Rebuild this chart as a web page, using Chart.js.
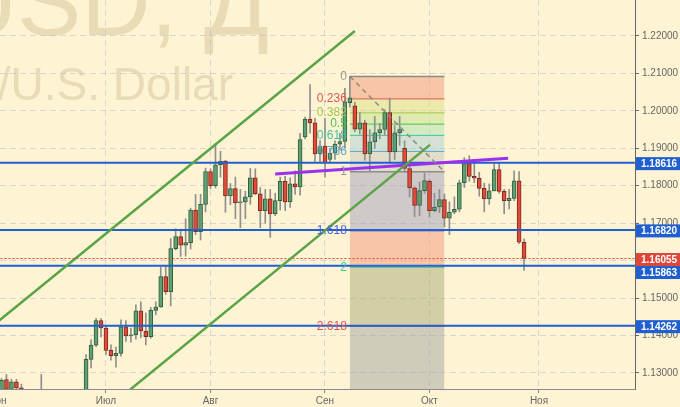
<!DOCTYPE html>
<html>
<head>
<meta charset="utf-8">
<script src="https://cdn.jsdelivr.net/npm/chart.js@4.4.0/dist/chart.umd.min.js"></script>
<style>
  html, body { margin: 0; padding: 0; background: #fef3d2; }
  canvas { display: block; }
</style>
</head>
<body>
<canvas id="chart" width="680" height="407"></canvas>
<script>
// EUR/USD daily, one entry per trading day from 1 Jun (index 0) to 27 Oct (index 106)
var openP = [
  1.1245, 1.1216, 1.1282, 1.1256, 1.1276, 1.1260, 1.1212, 1.1196, 1.1213, 1.1214,
  1.1215, 1.1150, 1.1198, 1.1150, 1.1133, 1.1164, 1.1151, 1.1196, 1.1182, 1.1336,
  1.1374, 1.1440, 1.1420, 1.1360, 1.1346, 1.1352, 1.1423, 1.1399, 1.1402, 1.1466,
  1.1412, 1.1397, 1.1467, 1.1476, 1.1557, 1.1517, 1.1632, 1.1664, 1.1641, 1.1648,
  1.1735, 1.1677, 1.1750, 1.1838, 1.1800, 1.1856, 1.1866, 1.1773, 1.1792, 1.1754,
  1.1757, 1.1770, 1.1821, 1.1778, 1.1733, 1.1765, 1.1725, 1.1760, 1.1812, 1.1757,
  1.1805, 1.1797, 1.1930, 1.1978, 1.1968, 1.1885, 1.1906, 1.1870, 1.1887, 1.1911,
  1.1918, 1.2022, 1.2013, 1.1951, 1.1968, 1.1885, 1.1917, 1.1941, 1.1950, 1.1995,
  1.1890, 1.1941, 1.1900, 1.1846, 1.1794, 1.1747, 1.1787, 1.1812, 1.1733, 1.1743,
  1.1763, 1.1713, 1.1729, 1.1737, 1.1808, 1.1859, 1.1825, 1.1820, 1.1793, 1.1765,
  1.1786, 1.1843, 1.1785, 1.1760, 1.1766, 1.1813, 1.1649
];
var highP = [
  1.1259, 1.1285, 1.1296, 1.1283, 1.1283, 1.1270, 1.1223, 1.1230, 1.1230, 1.1296,
  1.1220, 1.1213, 1.1211, 1.1160, 1.1172, 1.1190, 1.1213, 1.1207, 1.1349, 1.1389,
  1.1446, 1.1445, 1.1426, 1.1375, 1.1369, 1.1442, 1.1440, 1.1420, 1.1482, 1.1490,
  1.1460, 1.1475, 1.1490, 1.1583, 1.1585, 1.1659, 1.1685, 1.1684, 1.1712, 1.1740,
  1.1777, 1.1777, 1.1847, 1.1845, 1.1910, 1.1892, 1.1868, 1.1806, 1.1823, 1.1790,
  1.1785, 1.1846, 1.1845, 1.1795, 1.1790, 1.1790, 1.1780, 1.1823, 1.1825, 1.1821,
  1.1840, 1.1940, 1.1983, 1.2070, 1.1980, 1.1921, 1.1980, 1.1900, 1.1920, 1.1940,
  1.2060, 1.2092, 1.2023, 1.1995, 1.1975, 1.1950, 1.1985, 1.1966, 1.2003, 1.2034,
  1.1960, 1.1985, 1.1920, 1.1858, 1.1796, 1.1810, 1.1834, 1.1816, 1.1780, 1.1790,
  1.1778, 1.1757, 1.1770, 1.1815, 1.1875, 1.1880, 1.1860, 1.1836, 1.1807, 1.1805,
  1.1860, 1.1860, 1.1790, 1.1790, 1.1840, 1.1838, 1.1658
];
var lowP = [
  1.1207, 1.1206, 1.1251, 1.1234, 1.1224, 1.1210, 1.1168, 1.1185, 1.1190, 1.1189,
  1.1132, 1.1141, 1.1148, 1.1119, 1.1118, 1.1144, 1.1146, 1.1175, 1.1172, 1.1313,
  1.1370, 1.1396, 1.1349, 1.1334, 1.1315, 1.1345, 1.1384, 1.1382, 1.1390, 1.1394,
  1.1375, 1.1393, 1.1455, 1.1475, 1.1510, 1.1479, 1.1628, 1.1611, 1.1612, 1.1631,
  1.1669, 1.1655, 1.1730, 1.1792, 1.1794, 1.1823, 1.1729, 1.1749, 1.1712, 1.1688,
  1.1712, 1.1750, 1.1776, 1.1688, 1.1700, 1.1662, 1.1720, 1.1735, 1.1733, 1.1742,
  1.1777, 1.1775, 1.1925, 1.1940, 1.1865, 1.1864, 1.1823, 1.1860, 1.1870, 1.1895,
  1.1900, 1.2010, 1.1944, 1.1938, 1.1868, 1.1838, 1.1900, 1.1925, 1.1936, 1.1861,
  1.1870, 1.1908, 1.1836, 1.1770, 1.1717, 1.1720, 1.1780, 1.1716, 1.1730, 1.1728,
  1.1690, 1.1669, 1.1725, 1.1730, 1.1795, 1.1812, 1.1808, 1.1772, 1.1730, 1.1750,
  1.1786, 1.1780, 1.1725, 1.1738, 1.1760, 1.1645, 1.1574
];
var closeP = [
  1.1216, 1.1280, 1.1256, 1.1276, 1.1260, 1.1212, 1.1196, 1.1213, 1.1214, 1.1215,
  1.1150, 1.1198, 1.1150, 1.1133, 1.1164, 1.1151, 1.1196, 1.1182, 1.1336, 1.1374,
  1.1440, 1.1420, 1.1360, 1.1346, 1.1352, 1.1423, 1.1399, 1.1402, 1.1466, 1.1412,
  1.1397, 1.1467, 1.1476, 1.1557, 1.1517, 1.1632, 1.1664, 1.1641, 1.1648, 1.1735,
  1.1677, 1.1750, 1.1838, 1.1800, 1.1856, 1.1866, 1.1773, 1.1792, 1.1754, 1.1757,
  1.1770, 1.1821, 1.1778, 1.1733, 1.1765, 1.1725, 1.1760, 1.1812, 1.1757, 1.1805,
  1.1797, 1.1923, 1.1978, 1.1968, 1.1885, 1.1906, 1.1861, 1.1887, 1.1911, 1.1918,
  1.2024, 1.2035, 1.1951, 1.1968, 1.1885, 1.1917, 1.1941, 1.1950, 1.1995, 1.1890,
  1.1941, 1.1950, 1.1846, 1.1794, 1.1747, 1.1787, 1.1814, 1.1733, 1.1743, 1.1763,
  1.1713, 1.1729, 1.1737, 1.1808, 1.1859, 1.1825, 1.1820, 1.1793, 1.1765, 1.1786,
  1.1843, 1.1785, 1.1760, 1.1766, 1.1813, 1.1649, 1.16055
];

// first trading day of each month and its label
var monthDays = [0, 22, 43, 66, 87, 109];
var monthNames = ['Июн', 'Июл', 'Авг', 'Сен', 'Окт', 'Ноя'];

// horizontal levels and the last price
var levelPrices = [1.18616, 1.16820, 1.15863, 1.14262];
var lastPrice = 1.16055;

// fibonacci extension, from the 8 Sep high to the 31 Aug low
var fibFrom = 71, fibTo = 90;
var fibHigh = 1.2092, fibLow = 1.1837;
var fibRatios = [0, 0.236, 0.382, 0.5, 0.618, 0.786, 1, 1.618, 2, 2.618, 3.618];
var fibNames = ['0', '0.236', '0.382', '0.5', '0.618', '0.786', '1', '1.618', '2', '2.618', '3.618'];

// drawn lines: [day index, price] end points
var channelUpper = [[0, 1.1434], [72, 1.2213]];
var channelLower = [[20, 1.1181], [87.1, 1.1909]];
var purpleTrend = [[56, 1.1831], [102.8, 1.1873]];

var fibLineColors = ['#8c8c8c', '#e05a4e', '#a6c84a', '#4cc24c', '#3fc3a4', '#5aa8d0',
  '#8c8c8c', '#4a60dc', '#3ec890', '#e2505c', '#a050c0'];
var fibZoneColors = ['rgba(0,0,0,0)', 'rgba(242,160,130,0.55)', 'rgba(215,225,130,0.5)',
  'rgba(190,225,140,0.5)', 'rgba(170,225,175,0.5)', 'rgba(170,210,215,0.5)',
  'rgba(195,200,190,0.5)', 'rgba(160,160,190,0.5)', 'rgba(242,160,130,0.55)',
  'rgba(165,170,120,0.5)', 'rgba(160,165,165,0.5)'];

function fibPrice(r) {
  return fibHigh - r * (fibHigh - fibLow);
}

function segment(points, color, width, dash) {
  return {
    type: 'line',
    data: points.map(function (p) { return {x: p[0], y: p[1]}; }),
    borderColor: color,
    borderWidth: width,
    borderDash: dash || [],
    pointRadius: 0,
    fill: false,
    order: 1
  };
}

var datasets = [];

// fib levels, every level filled up to the one before it
fibRatios.forEach(function (r, k) {
  var p = fibPrice(r);
  datasets.push({
    type: 'line',
    data: [{x: fibFrom, y: p}, {x: fibTo, y: p}],
    borderColor: fibLineColors[k],
    borderWidth: (k === 0 || k === 6) ? 1.5 : 1,
    pointRadius: 0,
    fill: k === 0 ? false : '-1',
    backgroundColor: fibZoneColors[k],
    order: 10
  });
});

// candles: wicks and bodies as floating bars
var wickData = [], bodyData = [], bodyFill = [], bodyEdge = [];
for (var i = 0; i < closeP.length; i++) {
  wickData.push({x: i, y: [lowP[i], highP[i]]});
  bodyData.push({x: i, y: [openP[i], closeP[i]]});
  var up = closeP[i] >= openP[i];
  bodyFill.push(up ? '#5f9f73' : '#df4a3a');
  bodyEdge.push(up ? '#2f5f3e' : '#7d2a1e');
}
datasets.push({
  type: 'bar', data: wickData, backgroundColor: '#8f8f8f',
  barThickness: 1, grouped: false, order: 5
});
datasets.push({
  type: 'bar', data: bodyData, backgroundColor: bodyFill, borderColor: bodyEdge,
  borderWidth: 1, borderSkipped: false, barThickness: 4, grouped: false, order: 4
});

// fib diagonal, channel, trend line, horizontal levels
datasets.push(segment([[fibFrom, fibHigh], [fibTo, fibLow]], '#8a8a8a', 1.5, [5, 4]));
datasets.push(segment(channelUpper, '#5aa347', 2.5));
datasets.push(segment(channelLower, '#5aa347', 2.5));
datasets.push(segment(purpleTrend, '#9b30ee', 3));
levelPrices.forEach(function (p) {
  datasets.push(segment([[0, p], [130, p]], '#1f5fd2', 2));
});
datasets.push(segment([[0, lastPrice], [130, lastPrice]], '#e0453a', 1, [2, 2]));

var paper = {
  id: 'paper',
  beforeDraw: function (chart) {
    var ctx = chart.ctx;
    ctx.save();
    ctx.fillStyle = '#fef3d2';
    ctx.fillRect(0, 0, chart.width, chart.height);
    ctx.fillStyle = '#e8dbb6';
    ctx.textAlign = 'right';
    ctx.textBaseline = 'alphabetic';
    ctx.font = '96px "Liberation Sans"';
    ctx.fillText('EUR/USD, Д', 269, 35);
    ctx.font = '46px "Liberation Sans"';
    ctx.fillText('Euro/U.S. Dollar', 233, 100);
    ctx.restore();
  },
  afterDatasetsDraw: function (chart) {
    // fib level names, left of the box
    var ctx = chart.ctx, xs = chart.scales.x, ys = chart.scales.y, area = chart.chartArea;
    var x = xs.getPixelForValue(fibFrom) - 3;
    ctx.save();
    ctx.font = '12px "Liberation Sans"';
    ctx.textAlign = 'right';
    ctx.textBaseline = 'middle';
    fibRatios.forEach(function (r, k) {
      var y = ys.getPixelForValue(fibPrice(r));
      if (y < area.top || y > area.bottom) return;
      ctx.fillStyle = (k === 0 || k === 6) ? '#999999' : fibLineColors[k];
      ctx.fillText(fibNames[k], x, y);
    });
    ctx.restore();
  },
  afterDraw: function (chart) {
    // price tags on the right axis
    var ctx = chart.ctx, ys = chart.scales.y, area = chart.chartArea;
    var tags = levelPrices.map(function (p) { return {p: p, c: '#1f5fd2'}; });
    tags.push({p: lastPrice, c: '#e0453a'});
    tags.forEach(function (t) { t.y = ys.getPixelForValue(t.p) + 1; });
    tags.sort(function (a, b) { return a.y - b.y; });
    for (var k = 1; k < tags.length; k++) {
      if (tags[k].y - tags[k - 1].y < 13) tags[k].y = tags[k - 1].y + 13;
    }
    ctx.save();
    ctx.font = 'bold 10px "Liberation Sans"';
    ctx.textAlign = 'left';
    ctx.textBaseline = 'middle';
    tags.forEach(function (t) {
      ctx.fillStyle = t.c;
      ctx.fillRect(area.right + 1, t.y - 6.5, chart.width - area.right - 1, 13);
      ctx.fillStyle = '#ffffff';
      ctx.fillText(t.p.toFixed(5), area.right + 6, t.y + 0.5);
    });
    ctx.restore();
  }
};

var gridColor = 'rgba(170,180,205,0.45)';

new Chart(document.getElementById('chart'), {
  type: 'bar',
  data: {datasets: datasets},
  options: {
    responsive: false,
    animation: false,
    devicePixelRatio: 1,
    layout: {padding: 0},
    plugins: {legend: {display: false}, tooltip: {enabled: false}},
    scales: {
      x: {
        type: 'linear',
        min: 0.703,
        max: 128.29,
        offset: false,
        grid: {color: gridColor, offset: false, tickColor: '#888888', tickLength: 4},
        border: {display: true, color: '#8a8a8a', width: 1, dash: [6, 4]},
        ticks: {
          autoSkip: false,
          maxRotation: 0,
          padding: 2,
          color: '#666666',
          font: {family: 'Liberation Sans', size: 10},
          callback: function (v, k) { return monthNames[k]; }
        },
        afterBuildTicks: function (s) {
          s.ticks = monthDays.map(function (d) { return {value: d}; });
        },
        afterFit: function (s) {
          s.height = 18;
          s.paddingLeft = 0;
          s.paddingRight = 0;
        }
      },
      y: {
        type: 'linear',
        position: 'right',
        min: 1.1257,
        max: 1.2296,
        grid: {color: gridColor, tickColor: '#666666', tickLength: 4},
        border: {display: true, color: '#666666', width: 1, dash: [6, 4]},
        ticks: {
          stepSize: 0.01,
          includeBounds: false,
          padding: 3,
          color: '#666666',
          font: {family: 'Liberation Sans', size: 10},
          callback: function (v) { return v.toFixed(5); }
        },
        afterFit: function (s) {
          s.width = 45;
          s.paddingTop = 0;
          s.paddingBottom = 0;
        }
      }
    }
  },
  plugins: [paper]
});
</script>
</body>
</html>
